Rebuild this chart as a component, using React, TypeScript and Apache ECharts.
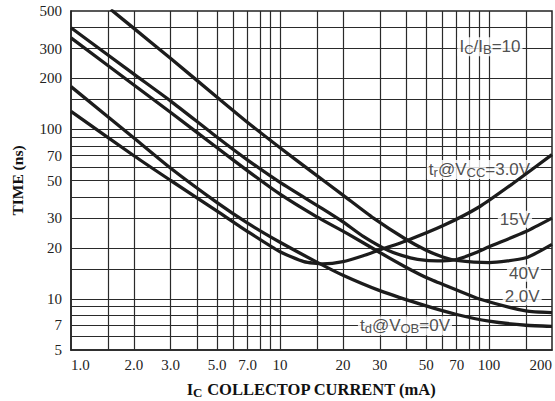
import React, { useEffect, useRef } from 'react';
import * as echarts from 'echarts';

// ---- Axis ticks & grid ----
const xTickLabels = [1, 2, 3, 5, 7, 10, 20, 30, 50, 70, 100, 200];
const yTickLabels = [5, 7, 10, 20, 30, 50, 70, 100, 200, 300, 500];
const xGridValues = [1.5, 2, 3, 4, 5, 6, 7, 8, 9, 10, 15, 20, 30, 40, 50, 60, 70, 80, 90, 100, 150];
const yGridValues = [6, 7, 8, 9, 10, 15, 20, 30, 40, 50, 60, 70, 80, 90, 100, 150, 200, 300, 400];

// ---- Curves: [IC (mA), time (ns)] ----
const trVcc3V: [number, number][] = [
  [1, 128], [2, 70], [3, 50], [5, 33], [7, 25], [10, 19], [13, 16.6], [16, 16.1], [20, 16.6],
  [25, 18], [30, 19.5], [40, 22], [60, 27], [90, 35], [130, 48], [200, 71],
];
const trVcc15V: [number, number][] = [
  [1, 398], [2, 212], [3, 147], [5, 90], [7, 66], [10, 48.7], [16, 34], [20, 28.5], [25, 23.4],
  [33, 19.3], [42, 17.5], [50, 16.9], [60, 16.8], [70, 17.1], [85, 18.6], [100, 20.3], [150, 25], [200, 30],
];
const trVcc40V: [number, number][] = [
  [1.55, 510], [2, 395], [3, 262], [5, 155], [7, 110], [10, 78], [14, 57], [20, 41], [28, 30],
  [40, 22.5], [50, 19.4], [60, 17.7], [70, 16.9], [100, 16.4], [150, 17.5], [200, 21],
];
const tdVob2V: [number, number][] = [
  [1, 347], [2, 183], [3, 126], [5, 78], [7, 57], [10, 41.5], [15, 30.5], [21, 24.3], [30, 18.8],
  [40, 15.4], [52, 13.1], [70, 11.3], [90, 10], [150, 8.5], [200, 8.3],
];
const tdVob0V: [number, number][] = [
  [1, 179], [2, 89], [3, 59], [5, 37], [7, 28], [10, 21.6], [15, 16.5], [20, 13.8], [30, 11.2],
  [50, 9.1], [70, 8.1], [100, 7.4], [150, 7], [200, 6.9],
];

const curveNames = ['tr@VCC=3.0V', 'tr@VCC=15V', 'tr@VCC=40V', 'td@VOB=2.0V', 'td@VOB=0V'];
const curveData = [trVcc3V, trVcc15V, trVcc40V, tdVob2V, tdVob0V];

// ---- Annotation texts ----
const annotationTexts = [
  '{n|I}{s|C}{n|/I}{s|B}{n|=10}',
  '{n|t}{s|r}{n|@V}{s|CC}{n|=3.0V}',
  '{n|15V}',
  '{n|40V}',
  '{n|2.0V}',
  '{n|t}{s|d}{n|@V}{s|OB}{n|=0V}',
];
const annotationAnchors: [number, number][] = [
  [101, 308], [90, 58], [133, 29.5], [147, 14.2], [144, 10.3], [39.6, 6.94],
];

export default function App() {
  const ref = useRef<HTMLDivElement>(null);

  useEffect(() => {
    document.body.style.margin = '0';
    if (!ref.current) return;
    const chart = echarts.init(ref.current, null, { renderer: 'svg' });

    const ink = '#1c1c1c';
    const serif = '"Liberation Serif", "Times New Roman", serif';
    const sans = '"Liberation Sans", Arial, sans-serif';

    const option: any = {
      animation: false,
      backgroundColor: '#fff',
      grid: {
        left: 71, right: 3, top: 11, bottom: 51,
        show: true, borderColor: '#222', borderWidth: 1.5,
        containLabel: false, outerBoundsMode: 'none',
      },
      xAxis: {
        type: 'log', logBase: 10, min: 1, max: 200,
        axisLine: { show: true, lineStyle: { color: '#222', width: 1.5 } },
        axisTick: { show: false },
        splitLine: { show: false },
        minorTick: { show: false },
        axisLabel: {
          customValues: xTickLabels,
          formatter: (v: number) => (v < 9.5 ? (Math.round(v * 10) / 10).toFixed(1) : String(Math.round(v))),
          fontFamily: serif, fontSize: 15, color: '#222', margin: 7,
          alignMinLabel: 'left', alignMaxLabel: 'right',
        },
        name: '{b|I}{s|C}{b| COLLECTOP CURRENT (mA)}',
        nameLocation: 'middle',
        nameGap: 29,
        nameTextStyle: {
          rich: {
            b: { fontFamily: serif, fontWeight: 'bold', fontSize: 16.5, color: '#111' },
            s: { fontFamily: serif, fontWeight: 'bold', fontSize: 13, color: '#111', padding: [7, 0, 0, 0] },
          },
        },
      },
      yAxis: {
        type: 'log', logBase: 10, min: 5, max: 500,
        axisLine: { show: true, lineStyle: { color: '#222', width: 1.5 } },
        axisTick: { show: false },
        splitLine: { show: false },
        minorTick: { show: false },
        axisLabel: {
          customValues: yTickLabels,
          formatter: (v: number) => String(Math.round(v)),
          fontFamily: serif, fontSize: 15, color: '#222', margin: 9,
        },
        name: 'TIME (ns)',
        nameLocation: 'middle',
        nameGap: 46,
        nameTextStyle: { fontFamily: serif, fontWeight: 'bold', fontSize: 15.5, color: '#111' },
      },
      series: [
        {
          type: 'line',
          name: 'grid',
          data: [[1, 5]],
          showSymbol: false,
          lineStyle: { opacity: 0 },
          silent: true,
          z: 1,
          markLine: {
            z: 1,
            silent: true,
            symbol: ['none', 'none'],
            label: { show: false },
            lineStyle: { color: '#2a2a2a', width: 1.2, type: 'solid' },
            emphasis: { disabled: true },
            data: [
              ...xGridValues.map((v) => ({ xAxis: v })),
              ...yGridValues.map((v) => ({ yAxis: v })),
            ],
          },
        },
        {
          type: 'scatter',
          name: 'labels',
          symbolSize: 1,
          itemStyle: { color: 'transparent' },
          silent: true,
          z: 2,
          data: annotationAnchors.map((p, i) => ({
            value: p,
            label: { formatter: annotationTexts[i] },
          })),
          label: {
            show: true,
            position: 'inside',
            backgroundColor: '#fff',
            padding: [0, 2, 0, 2],
            rich: {
              n: { fontFamily: sans, fontSize: 17, color: '#222' },
              s: { fontFamily: sans, fontSize: 13, color: '#222', padding: [6, 0, 0, 0] },
            },
          },
        },
        ...curveData.map((d, i) => ({
          type: 'line',
          name: curveNames[i],
          data: d,
          showSymbol: false,
          smooth: 0.2,
          clip: true,
          silent: true,
          z: 3,
          lineStyle: { color: ink, width: 3.3 },
        })),
      ],
    };

    chart.setOption(option);
    return () => chart.dispose();
  }, []);

  return <div ref={ref} style={{ width: 555, height: 401 }} />;
}
